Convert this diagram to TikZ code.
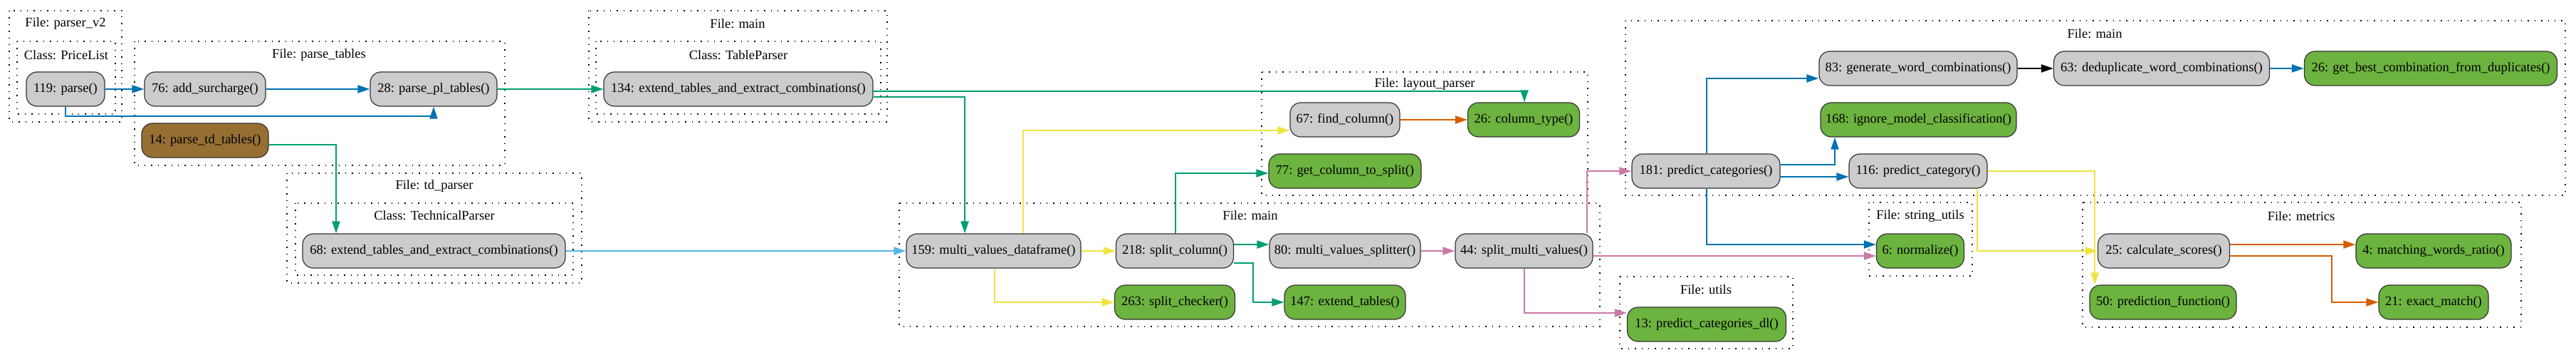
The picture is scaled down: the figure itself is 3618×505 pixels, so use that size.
\documentclass[tikz,border=0pt]{standalone}
\usepackage{fontspec}
\setmainfont{Liberation Serif}
\usetikzlibrary{arrows.meta}
\definecolor{cgray}{HTML}{CCCCCC}
\definecolor{cgreen}{HTML}{6DB33F}
\definecolor{cbrown}{HTML}{966F33}
\definecolor{eblue}{HTML}{0072B2}
\definecolor{egreen}{HTML}{009E73}
\definecolor{eyellow}{HTML}{F0E442}
\definecolor{eorange}{HTML}{D55E00}
\definecolor{epink}{HTML}{CC79A7}
\definecolor{esky}{HTML}{56B4E9}
\begin{document}
\begin{tikzpicture}[x=1pt,y=-1pt,
  fn/.style={draw=black!80, line width=1.2pt, rounded corners=15pt, minimum height=48pt, inner sep=0pt, fill=cgray, font=\fontsize{18.5}{22}\selectfont},
  gn/.style={fn, fill=cgreen},
  bn/.style={fn, fill=cbrown},
  clus/.style={draw=black, line width=1.4pt, dash pattern=on 1.4pt off 8pt},
  lbl/.style={font=\fontsize{18.5}{22}\selectfont, inner sep=0pt},
  ed/.style={line width=2pt, -{Triangle[length=17pt,width=11pt]}},
]
\useasboundingbox (0,0) rectangle (3618,505);
% clusters
\draw[clus] (13,15) rectangle (171,171);
\node[lbl] (lpv2) at (92,33) {File: parser\_v2};
\draw[clus] (24,58) rectangle (162,160);
\node[lbl] (lpl) at (93,77) {Class: PriceList};
\draw[clus] (189,58) rectangle (709,232);
\node[lbl] (lpt) at (448,77) {File: parse\_tables};
\draw[clus] (403,243) rectangle (817,397);
\node[lbl] (ltd) at (610,261) {File: td\_parser};
\draw[clus] (415,285) rectangle (805,386);
\node[lbl] (ltp) at (610,302) {Class: TechnicalParser};
\draw[clus] (827,15) rectangle (1246,171);
\node[lbl] (lm1) at (1036,33) {File: main};
\draw[clus] (837,58) rectangle (1237,160);
\node[lbl] (ltbp) at (1037,77) {Class: TableParser};
\draw[clus] (1772,101) rectangle (2230,274);
\node[lbl] (llp) at (2001,118) {File: layout\_parser};
\draw[clus] (1263,285) rectangle (2247,458);
\node[lbl] (lm2) at (1756,302) {File: main};
\draw[clus] (2283,29) rectangle (3603,274);
\node[lbl] (lm3) at (2942,47) {File: main};
\draw[clus] (2625,284) rectangle (2770,387);
\node[lbl] (lsu) at (2697,303) {File: string\_utils};
\draw[clus] (2275,388) rectangle (2518,489);
\node[lbl] (lut) at (2396,406) {File: utils};
\draw[clus] (2925,284) rectangle (3541,459);
\node[lbl] (lme) at (3232,303) {File: metrics};
% nodes
\node[fn, minimum width=110pt] (n119) at (92,125) {119: parse()};
\node[fn, minimum width=170pt] (n76) at (288,125) {76: add\_surcharge()};
\node[fn, minimum width=178pt] (n28) at (609,125) {28: parse\_pl\_tables()};
\node[bn, minimum width=178pt] (n14) at (288,197) {14: parse\_td\_tables()};
\node[fn, minimum width=369pt] (n68) at (609.5,352) {68: extend\_tables\_and\_extract\_combinations()};
\node[fn, minimum width=378pt] (n134) at (1037,125) {134: extend\_tables\_and\_extract\_combinations()};
\node[fn, minimum width=154pt] (n67) at (1889,168) {67: find\_column()};
\node[gn, minimum width=157pt] (n26ct) at (2140,168) {26: column\_type()};
\node[gn, minimum width=214pt] (n77) at (1889,240) {77: get\_column\_to\_split()};
\node[fn, minimum width=245pt] (n159) at (1395.5,352) {159: multi\_values\_dataframe()};
\node[fn, minimum width=165pt] (n218) at (1650,352) {218: split\_column()};
\node[fn, minimum width=212pt] (n80) at (1889,352) {80: multi\_values\_splitter()};
\node[fn, minimum width=193pt] (n44) at (2140.5,352) {44: split\_multi\_values()};
\node[gn, minimum width=169pt] (n263) at (1650,424) {263: split\_checker()};
\node[gn, minimum width=170pt] (n147) at (1889,424) {147: extend\_tables()};
\node[fn, minimum width=208pt] (n181) at (2396,240) {181: predict\_categories()};
\node[fn, minimum width=194pt] (n116) at (2694,240) {116: predict\_category()};
\node[fn, minimum width=278pt] (n83) at (2694,96) {83: generate\_word\_combinations()};
\node[fn, minimum width=303pt] (n63) at (3036,96) {63: deduplicate\_word\_combinations()};
\node[gn, minimum width=355pt] (n26b) at (3414,96) {26: get\_best\_combination\_from\_duplicates()};
\node[gn, minimum width=275pt] (n168) at (2694.5,168) {168: ignore\_model\_classification()};
\node[gn, minimum width=123pt] (n6) at (2697,352) {6: normalize()};
\node[gn, minimum width=223pt] (n13) at (2397,455) {13: predict\_categories\_dl()};
\node[fn, minimum width=185pt] (n25) at (3039,352) {25: calculate\_scores()};
\node[gn, minimum width=218pt] (n4) at (3418,352) {4: matching\_words\_ratio()};
\node[gn, minimum width=206pt] (n50) at (3038,424) {50: prediction\_function()};
\node[gn, minimum width=154pt] (n21) at (3418,424) {21: exact\_match()};
% edges
\draw[ed, eblue] (n119.east) -- (n76.west);
\draw[ed, eblue] (n119.south) -- ++(0,13) -| (n28.south);
\draw[ed, eblue] (n76.east) -- (n28.west);
\draw[ed, egreen] (n28.east) -- (n134.west);
\draw[ed, egreen] ([yshift=-6pt]n14.east) -| ([xshift=-137.5pt]n68.north);
\draw[ed, egreen] ([yshift=-3pt]n134.east) -| ([xshift=1pt]n26ct.north);
\draw[ed, egreen] ([yshift=-11pt]n134.east) -| ([xshift=-40.5pt]n159.north);
\draw[ed, esky] (n68.east) -- (n159.west);
\draw[ed, eyellow] ([xshift=41.5pt]n159.north) |- ([yshift=-15pt]n67.west);
\draw[ed, eyellow] (n159.east) -- (n218.west);
\draw[ed, eyellow] ([xshift=1.5pt]n159.south) |- (n263.west);
\draw[ed, egreen] ([xshift=1pt]n218.north) |- ([yshift=-3pt]n77.west);
\draw[ed, egreen] ([yshift=9pt]n218.east) -- ([yshift=9pt]n80.west);
\draw[ed, egreen] ([yshift=-17pt]n218.east) -- ++(27,0) |- (n147.west);
\draw[ed, eorange] (n67.east) -- (n26ct.west);
\draw[ed, epink] (n80.east) -- (n44.west);
\draw[ed, epink] ([xshift=88.5pt]n44.north) |- (n181.west);
\draw[ed, epink] ([yshift=-7pt]n44.east) -- ([yshift=-7pt]n6.west);
\draw[ed, epink] ([xshift=0.5pt]n44.south) |- ([yshift=16pt]n13.west);
\draw[ed, eblue] ([xshift=1pt]n181.north) |- ([yshift=-14pt]n83.west);
\draw[ed, black] (n83.east) -- (n63.west);
\draw[ed, eblue] (n63.east) -- (n26b.west);
\draw[ed, eblue] ([yshift=9pt]n181.east) -| ([xshift=-117.5pt]n168.south);
\draw[ed, eblue] ([yshift=-8pt]n181.east) -- ([yshift=-8pt]n116.west);
\draw[ed, eblue] ([xshift=1pt]n181.south) |- ([yshift=9pt]n6.west);
\draw[ed, eyellow] ([xshift=83pt]n116.south) |- (n25.west);
\draw[ed, eyellow] (n116.east) -| ([xshift=-96pt]n50.north);
\draw[ed, eorange] ([yshift=9pt]n25.east) -- ([yshift=9pt]n4.west);
\draw[ed, eorange] ([yshift=-7pt]n25.east) -- ++(143,0) |- (n21.west);
\end{tikzpicture}
\end{document}
